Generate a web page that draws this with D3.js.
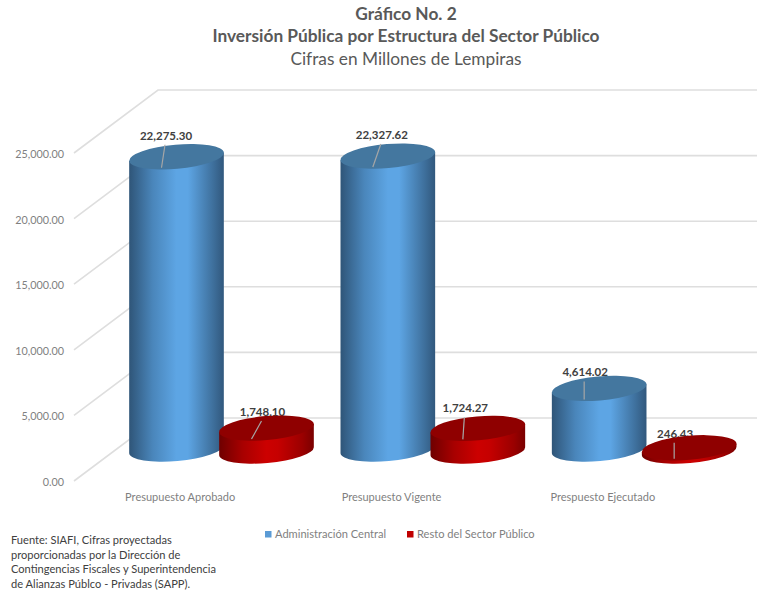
<!DOCTYPE html>
<html>
<head>
<meta charset="utf-8">
<script src="https://cdn.jsdelivr.net/npm/d3@7"></script>
<style>
  html, body { margin: 0; padding: 0; background: #fff; }
  text { font-family: Lato, "Open Sans", sans-serif; }
</style>
</head>
<body>
<div class="chart"></div>
<script>
var categories = ["Presupuesto Aprobado", "Presupuesto Vigente", "Prespuesto Ejecutado"]
var seriesNames = ["Administración Central", "Resto del Sector Público"]
var administracion = [22275.30, 22327.62, 4614.02]
var resto = [1748.10, 1724.27, 246.43]
var yTicks = [0, 5000, 10000, 15000, 20000, 25000]
var titleLines = ["Gráfico No. 2", "Inversión Pública por Estructura del Sector Público", "Cifras en Millones de Lempiras"]
var sourceLines = [
  "Fuente: SIAFI, Cifras proyectadas",
  "proporcionadas por la Dirección de",
  "Contingencias Fiscales y Superintendencia",
  "de Alianzas Públco - Privadas (SAPP)."
]

var svg = d3.select(".chart")
  .append("svg")
  .attr("width", 760)
  .attr("height", 594)
  .style("display", "block")

var y = d3.scaleLinear().domain([0, 25000]).range([449, 121])
var x0 = d3.scaleBand().domain(categories).range([71, 705])
var x1 = d3.scaleBand().domain(seriesNames).range([60.5, 240.5])
var fmt = d3.format(",.2f")

// cylinder shape
var rx = 47.5, ry = 12, tilt = -5
var ex = rx * Math.cos(tilt * Math.PI / 180)
var ey = rx * Math.sin(tilt * Math.PI / 180)

var colors = {
  "Administración Central": { id: "blueSide", top: "#44779f", legend: "#5b9bd5",
    stops: ["#2f5578", "#4a86bb", "#5da5e4", "#5da5e4", "#3f719e", "#31587d"] },
  "Resto del Sector Público": { id: "redSide", top: "#8f0000", legend: "#c00000",
    stops: ["#6f0000", "#a80000", "#cc0000", "#c60000", "#9a0000", "#7a0000"] }
}

var defs = svg.append("defs")
seriesNames.forEach(function (s) {
  var grad = defs.append("linearGradient").attr("id", colors[s].id)
  var offs = [0, 0.25, 0.5, 0.62, 0.88, 1]
  colors[s].stops.forEach(function (c, i) {
    grad.append("stop").attr("offset", offs[i]).attr("stop-color", c)
  })
})

// gridlines: side wall + back wall
var backX = 158, frontX = 74, rightX = 757
var grid = svg.append("g")
yTicks.forEach(function (t) {
  grid.append("path")
    .attr("d", d3.line()([[frontX, y(t) + 32], [backX, y(t) - 31], [rightX, y(t) - 31]]))
    .attr("fill", "none")
    .style("stroke", "#dedede")
    .style("stroke-width", 1.6)

  svg.append("text")
    .attr("x", 64)
    .attr("y", y(t) + 32 + 5)
    .attr("text-anchor", "end")
    .text(fmt(t))
    .style("font-size", "10.8px")
    .attr("fill", "#7f7f7f")
})

// titles
titleLines.forEach(function (line, i) {
  svg.append("text")
    .attr("x", 406)
    .attr("y", [20, 42, 65][i])
    .attr("text-anchor", "middle")
    .text(line)
    .style("font-size", "17.3px")
    .attr("font-weight", i == 2 ? "normal" : "bold")
    .attr("fill", "#595959")
})

// category labels
categories.forEach(function (c) {
  svg.append("text")
    .attr("x", x0(c) + x0.bandwidth() / 2 + 3.5)
    .attr("y", 501)
    .attr("text-anchor", "middle")
    .text(c)
    .style("font-size", "11px")
    .attr("fill", "#7f7f7f")
})

// leader lines lean a bit differently per bar
var leaderLean = [[3.5, 10], [8, 1.5], [0, 0]]
var leaderUp = [[12, 7], [12, 11], [7, 5]]

categories.forEach(function (c, i) {
  seriesNames.forEach(function (s, j) {
    var value = (j == 0 ? administracion : resto)[i]
    var cx = x0(c) + x1(s) + x1.bandwidth() / 2
    var base = y(0) + j * 2
    var topY = base - (y(0) - y(value))
    var col = colors[s]
    var lx = cx - 15

    // label goes first, the cylinder top cuts into it like in the original
    svg.append("text")
      .attr("x", lx + leaderLean[i][j] + 1)
      .attr("y", topY - leaderUp[i][j] - 5)
      .attr("text-anchor", "middle")
      .text(fmt(value))
      .style("font-size", "11.5px")
      .attr("font-weight", "bold")
      .attr("fill", "#404040")

    var side = "M" + (cx - ex) + "," + (topY - ey)
      + " L" + (cx - ex) + "," + (base - ey)
      + " A" + rx + "," + ry + " " + tilt + " 0 0 " + (cx + ex) + "," + (base + ey)
      + " L" + (cx + ex) + "," + (topY + ey)
      + " Z"

    svg.append("path")
      .attr("d", side)
      .attr("fill", "url(#" + col.id + ")")

    svg.append("ellipse")
      .attr("rx", rx)
      .attr("ry", ry)
      .attr("transform", "translate(" + cx + "," + topY + ") rotate(" + tilt + ")")
      .attr("fill", col.top)

    svg.append("line")
      .attr("x1", lx)
      .attr("y1", topY + 11)
      .attr("x2", lx + leaderLean[i][j])
      .attr("y2", topY - leaderUp[i][j])
      .style("stroke", "#a6a6a6")
      .style("stroke-width", 1.2)
  })
})

// legend
var legendX = [265, 407]
seriesNames.forEach(function (s, i) {
  svg.append("rect")
    .attr("x", legendX[i])
    .attr("y", 531)
    .attr("width", 6.5)
    .attr("height", 6.5)
    .attr("fill", colors[s].legend)

  svg.append("text")
    .attr("x", legendX[i] + 10)
    .attr("y", 538)
    .text(s)
    .style("font-size", "11.1px")
    .attr("fill", "#7f7f7f")
})

// source note
sourceLines.forEach(function (line, i) {
  svg.append("text")
    .attr("x", 11)
    .attr("y", 544 + i * 14.7)
    .text(line)
    .style("font-size", "11.1px")
    .attr("fill", "#404040")
})
</script>
</body>
</html>
